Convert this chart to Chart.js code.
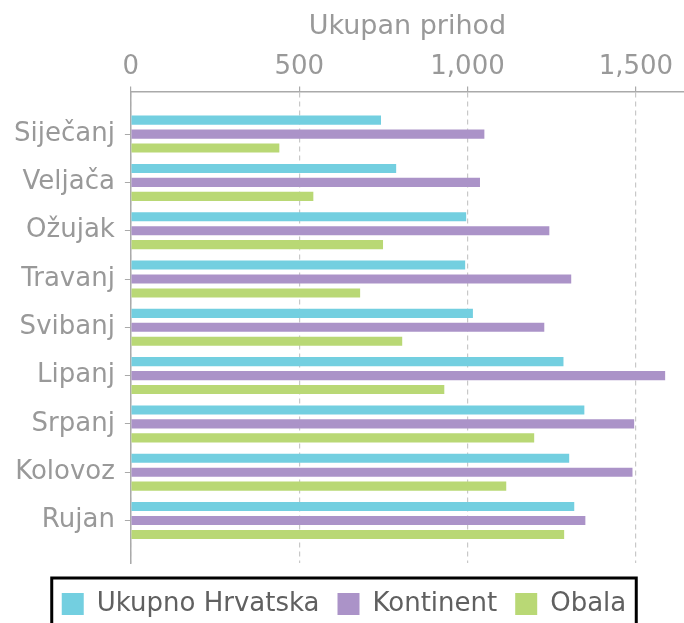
<!DOCTYPE html>
<html><head><meta charset="utf-8">
<script src="https://cdn.jsdelivr.net/npm/chart.js@4.4.0/dist/chart.umd.min.js"></script>
<style>html,body{margin:0;padding:0;background:#fff;}</style>
</head><body>
<canvas id="c" width="684" height="623"></canvas>
<script>
const categories = ['Siječanj','Veljača','Ožujak','Travanj','Svibanj','Lipanj','Srpanj','Kolovoz','Rujan'];
const seriesNames = ['Ukupno Hrvatska','Kontinent','Obala'];
const ukupnoHrvatska = [743, 788, 996, 993, 1016, 1285, 1347, 1302, 1317];
const kontinent      = [1050, 1037, 1243, 1308, 1228, 1587, 1495, 1490, 1350];
const obala          = [441, 542, 749, 681, 806, 931, 1198, 1115, 1287];
const xTicks = [0, 500, 1000, 1500];
const axisTitle = 'Ukupan prihod';

const colors = ['#73CFE0', '#AB93C8', '#B9D875'];
const series = [ukupnoHrvatska, kontinent, obala];

Chart.defaults.font.family = "'DejaVu Sans', sans-serif";

const legendFrame = {
  id: 'legendFrame',
  afterDraw(chart) {
    const hb = chart.legend && chart.legend.legendHitBoxes;
    if (!hb || !hb.length) return;
    const first = hb[0], last = hb[hb.length - 1];
    const x1 = first.left - 10, x2 = last.left + last.width + 10;
    const cy = first.top + first.height / 2;
    const ctx = chart.ctx;
    ctx.save();
    ctx.strokeStyle = '#000';
    ctx.lineWidth = 3;
    ctx.strokeRect(x1, cy - 26, x2 - x1, 100);
    ctx.restore();
  }
};

new Chart(document.getElementById('c'), {
  type: 'bar',
  data: {
    datasets: series.map((vals, k) => ({
      label: seriesNames[k],
      data: vals.map((v, i) => ({x: v, y: i})),
      backgroundColor: colors[k],
      borderWidth: 0,
      categoryPercentage: 0.867,
      barPercentage: 0.65
    }))
  },
  options: {
    responsive: false,
    animation: false,
    indexAxis: 'y',
    locale: 'en-US',
    layout: {padding: {left: 4, right: 0, top: 0, bottom: -4}},
    scales: {
      x: {
        type: 'linear',
        position: 'top',
        min: 0,
        max: 1643,
        afterBuildTicks: (scale) => { scale.ticks = xTicks.map(v => ({value: v})); },
        title: {display: true, text: axisTitle, color: '#999', font: {size: 27}, padding: {top: 11, bottom: 4}},
        ticks: {color: '#999', font: {size: 26}, padding: 4},
        grid: {color: '#c8c8c8', lineWidth: 1.2, drawTicks: true, tickLength: 5, tickColor: '#aaa', tickBorderDash: []},
        border: {display: true, color: '#aaa', width: 1.5, dash: [5, 4]}
      },
      y: {
        type: 'linear',
        reverse: true,
        offset: false,
        min: -0.88,
        max: 8.88,
        afterBuildTicks: (scale) => { scale.ticks = categories.map((c, i) => ({value: i})); },
        ticks: {autoSkip: false, color: '#999', font: {size: 26}, padding: 10,
          callback: (v) => (categories[v] !== undefined ? categories[v] : '')},
        grid: {offset: false, drawOnChartArea: false, drawTicks: true, tickLength: 6, tickColor: '#aaa'},
        border: {display: true, color: '#aaa', width: 1.5}
      }
    },
    plugins: {
      legend: {
        position: 'bottom',
        title: {display: true, text: '', font: {size: 10, lineHeight: 1}, padding: 0},
        labels: {boxWidth: 22, boxHeight: 22, padding: 18, color: '#606060', font: {size: 26}}
      },
      tooltip: {enabled: false}
    }
  },
  plugins: [legendFrame]
});
</script>
</body></html>
